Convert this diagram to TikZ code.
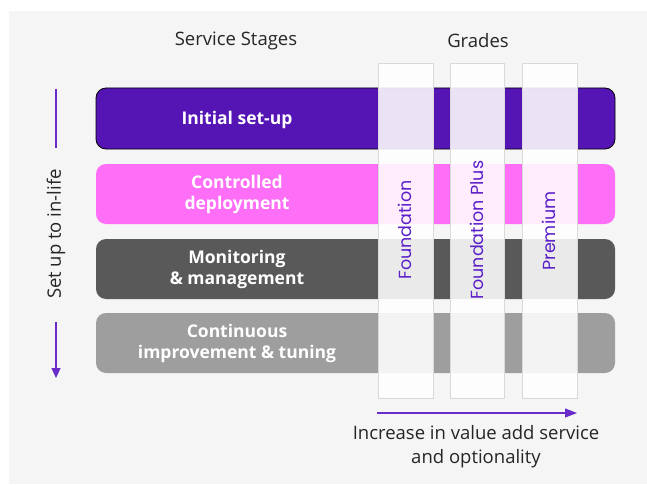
\documentclass[tikz,border=0pt]{standalone}
\usepackage{fontspec}
\setmainfont{Open Sans}
\newfontfamily\gradefont{Poppins}
\usetikzlibrary{arrows.meta}

\definecolor{bgcol}{HTML}{F5F5F5}
\definecolor{btpurple}{HTML}{5514B4}
\definecolor{btpink}{HTML}{FF6EF7}
\definecolor{darkgrey}{HTML}{595959}
\definecolor{midgrey}{HTML}{9E9E9E}
\definecolor{gradetext}{HTML}{5A1FC8}
\definecolor{arrowcol}{HTML}{6A2CC8}

\tikzset{
  stagebox/.style={rounded corners=10pt},
  stagelabel/.style={text=white,font=\fontsize{17.5}{21}\selectfont\bfseries,align=center},
  gradebar/.style={fill=white,fill opacity=0.88,draw=black!15,line width=0.8pt},
  gradelabel/.style={rotate=90,text=gradetext,font=\gradefont\fontsize{17.5}{20}\selectfont},
  caption/.style={font=\fontsize{18.5}{24}\selectfont,text=black!85,align=center},
  flowline/.style={draw=arrowcol,line width=1.1pt}
}

\begin{document}
\begin{tikzpicture}[x=1pt,y=-1pt]
\useasboundingbox (0,0) rectangle (647,484);
\fill[bgcol] (9,11) rectangle (647,484);

\node[caption] (stages) at (236,41) {Service Stages};
\node[caption] (grades) at (478,41) {Grades};

% the four service stages
\fill[btpurple,stagebox,draw=black,line width=0.8pt] (96,88) rectangle (615,149);
\fill[btpink,stagebox] (96,164) rectangle (615,224);
\fill[darkgrey,stagebox] (96,239) rectangle (615,299);
\fill[midgrey,stagebox] (96,313) rectangle (615,373);

\node[stagelabel] (setup) at (237,120) {Initial set-up};
\node[stagelabel] (deploy) at (237,194) {Controlled\\deployment};
\node[stagelabel] (monitor) at (237,269) {Monitoring\\\& management};
\node[stagelabel] (improve) at (237,343) {Continuous\\improvement \& tuning};

% grade columns laid over the stages
\draw[gradebar] (378,63) rectangle (433,398);
\draw[gradebar] (450,63) rectangle (504,398);
\draw[gradebar] (522,63) rectangle (577,398);

\node[gradelabel] (foundation) at (405,230) {Foundation};
\node[gradelabel] (plus) at (477,230) {Foundation Plus};
\node[gradelabel] (premium) at (549,231) {Premium};

% set up to in-life
\coordinate (lifetop) at (56,89);
\coordinate (lifeend) at (56,378);
\node[caption,rotate=90] (life) at (56,234) {Set up to in-life};
\draw[flowline] (lifetop) -- (lifetop |- 0,148);
\draw[flowline,-{Triangle[length=10pt,width=9pt]}] (56,322) -- (lifeend);

% value add
\coordinate (valstart) at (377,413);
\coordinate (valend) at (577,413);
\draw[flowline,-{Triangle[length=12pt,width=9pt]}] (valstart) -- (valend);
\node[caption] (value) at (476,447) {Increase in value add service\\and optionality};
\end{tikzpicture}
\end{document}
